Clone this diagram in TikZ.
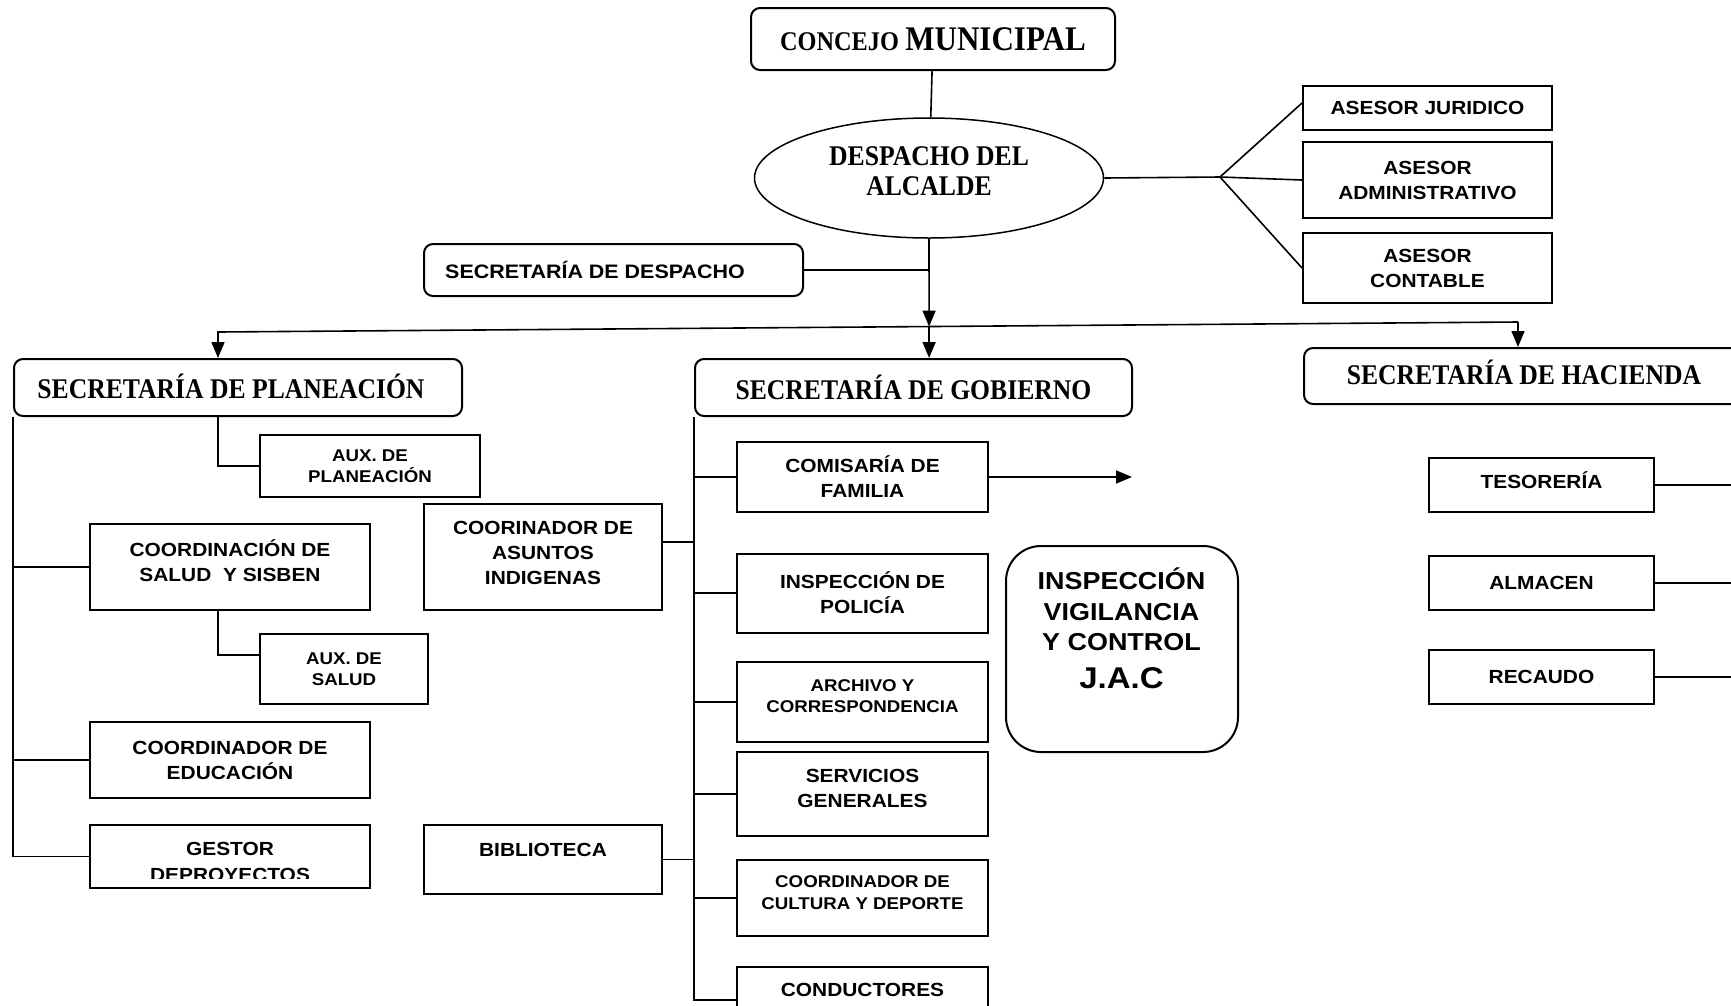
\documentclass[tikz,border=0pt]{standalone}
\usepackage{fontspec}
\setmainfont{Liberation Sans}
\newfontfamily\titlefamily[FakeStretch=0.9]{Liberation Serif}
\newfontfamily\boxfamily[FakeStretch=1.1]{Liberation Sans}
\usepackage{tikz}
\usetikzlibrary{arrows.meta,%
                shapes.geometric,%
                positioning}
\tikzset{
  sectitle/.style={font=\titlefamily\bfseries\fontsize{28.5}{30}\selectfont, align=center, inner sep=0pt},
  bigtxt/.style={font=\boxfamily\bfseries\fontsize{19}{25}\selectfont, align=center},
  smalltxt/.style={font=\boxfamily\bfseries\fontsize{17}{21.5}\selectfont, align=center},
  box/.style args={#1x#2}{draw, line width=2pt, inner sep=0pt, minimum width=#1, minimum height=#2},
  rbox/.style args={#1x#2}{box=#1x#2, rounded corners=9pt},
  link/.style={line width=1.6pt}
}

\begin{document}
\begin{tikzpicture}[x=1pt,y=-1pt,>={Triangle[length=16pt,width=13pt]}]
        \useasboundingbox (0,0) rectangle (1731,1005);
        \node[rbox=364x62, sectitle] (concejo) at (933,39) {{\fontsize{27}{30}\selectfont CONCEJO} {\fontsize{34.5}{36}\selectfont MUNICIPAL}};
        \node[ellipse, draw, line width=1.5pt, minimum width=349, minimum height=120] (alcalde) at (929,178) {};
        \node[sectitle] (alcaldetxt) at (929,171.5) {DESPACHO DEL\\ALCALDE};
        \node[rbox=379x52] (despacho) at (613.5,270) {};
        \node[bigtxt, anchor=west, inner sep=0pt, font=\boxfamily\bfseries\fontsize{19.5}{25}\selectfont] (despachotxt) at ([xshift=22pt]despacho.west) {SECRETARÍA DE DESPACHO};
        \node[box=249x44, bigtxt] (juridico) at (1427.5,108) {ASESOR JURIDICO};
        \node[box=249x76, bigtxt] (admin) at (1427.5,180) {ASESOR\\ADMINISTRATIVO};
        \node[box=249x70, bigtxt] (contable) at (1427.5,268) {ASESOR\\CONTABLE};
        \node[rbox=448x57] (planeacion) at (238,387.5) {};
        \node[sectitle] (planeaciontxt) at (231,386) {SECRETARÍA DE PLANEACIÓN};
        \node[rbox=437x57, sectitle] (gobierno) at (913.5,387.5) {SECRETARÍA DE GOBIERNO};
        \node[rbox=456x56] (hacienda) at (1532,376) {};
        \node[sectitle] (haciendatxt) at (1524,372) {SECRETARÍA DE HACIENDA};
        \node[box=220x62, smalltxt] (auxplan) at (370,466) {AUX. DE\\PLANEACIÓN};
        \node[box=280x86] (salud) at (230,567) {};
        \node[bigtxt, inner sep=0pt] (saludtxt) at (230,560.5) {COORDINACIÓN DE\\SALUD\ \ Y SISBEN};
        \node[box=168x70, smalltxt] (auxsalud) at (344,669) {AUX. DE\\SALUD};
        \node[box=280x76, bigtxt] (educacion) at (230,760) {COORDINADOR DE\\EDUCACIÓN};
        \node[box=280x63] (gestor) at (230,856.5) {};
        \begin{scope}
        \clip (gestor.north west) rectangle ([yshift=11pt]gestor.south east);
        \node[bigtxt, anchor=north, inner sep=0pt, font=\boxfamily\bfseries\fontsize{19}{26}\selectfont] (gestortxt) at ([yshift=-18pt]gestor.north) {GESTOR\\DEPROYECTOS};
        \end{scope}
        \node[box=238x106] (indigenas) at (543,557) {};
        \node[bigtxt, inner sep=0pt] (indigenastxt) at (543,553) {COORINADOR DE\\ASUNTOS\\INDIGENAS};
        \node[box=238x69] (biblioteca) at (543,859.5) {};
        \node[bigtxt, inner sep=0pt] (bibliotecatxt) at (543,850) {BIBLIOTECA};
        \node[box=251x70, bigtxt] (comisaria) at (862.5,477) {COMISARÍA DE\\FAMILIA};
        \node[box=251x79, bigtxt] (policia) at (862.5,593) {INSPECCIÓN DE\\POLICÍA};
        \node[box=251x80] (archivo) at (862.5,702) {};
        \node[smalltxt, inner sep=0pt] (archivotxt) at (862.5,696) {ARCHIVO Y\\CORRESPONDENCIA};
        \node[box=251x84] (servicios) at (862.5,794) {};
        \node[bigtxt, inner sep=0pt] (serviciostxt) at (862.5,788.5) {SERVICIOS\\GENERALES};
        \node[box=251x76] (cultura) at (862.5,898) {};
        \node[smalltxt, inner sep=0pt] (culturatxt) at (862.5,892.5) {COORDINADOR DE\\CULTURA Y DEPORTE};
        \node[box=251x66] (conductores) at (862.5,1000) {};
        \node[bigtxt, inner sep=0pt] (conductorestxt) at (862.5,990) {CONDUCTORES};
        \node[box=232x206, rounded corners=35pt] (inspeccion) at (1122,649) {};
        \node[bigtxt, anchor=north, inner sep=0pt, font=\boxfamily\bfseries\fontsize{24.5}{30.5}\selectfont] (inspecciontxt) at (1121.5,568) {INSPECCIÓN\\VIGILANCIA\\Y CONTROL\\[7pt]{\fontsize{30}{34}\selectfont J.A.C}};
        \node[box=225x54] (tesoreria) at (1541.5,485) {};
        \node[bigtxt, inner sep=0pt] (tesoreriatxt) at (1541.5,480.5) {TESORERÍA};
        \node[box=225x54, bigtxt] (almacen) at (1541.5,583) {ALMACEN};
        \node[box=225x54, bigtxt] (recaudo) at (1541.5,677) {RECAUDO};
        \coordinate (leftdrop) at (218,332);
        \coordinate (rightdrop) at (1518,322);
        \path (leftdrop) -- (rightdrop) coordinate[pos=0.547] (middrop);
        \coordinate (hub) at (1220,177);
        \coordinate (famend) at (1132,477);
        \draw[link] (concejo) -- (alcalde);
        \draw[link] (despacho.east) -- (despacho.east -| alcalde.south);
        \draw[link,->] (alcalde.south) -- (middrop);
        \draw[link,->] (middrop) -- (middrop |- gobierno.north);
        \draw[link,->] (rightdrop) -- (leftdrop) -- (leftdrop |- planeacion.north);
        \draw[link,->] (rightdrop) -- (rightdrop |- hacienda.north);
        \draw[link] (alcalde.east) -- (hub);
        \draw[link] (hub) -- ([yshift=5pt]juridico.west);
        \draw[link] (hub) -- (admin.west);
        \draw[link] (hub) -- (contable.west);
        \draw[link] (planeacion.south west) |- (gestor.west);
        \draw[link] (salud.west -| planeacion.south west) -- (salud.west);
        \draw[link] (educacion.west -| planeacion.south west) -- (educacion.west);
        \draw[link] (leftdrop |- planeacion.south) |- (auxplan.west);
        \draw[link] (leftdrop |- salud.south) |- ([yshift=14pt]auxsalud.west);
        \draw[link] (gobierno.south west) |- (conductores.west);
        \draw[link] (comisaria.west -| gobierno.south west) -- (comisaria.west);
        \draw[link] (policia.west -| gobierno.south west) -- (policia.west);
        \draw[link] (archivo.west -| gobierno.south west) -- (archivo.west);
        \draw[link] (servicios.west -| gobierno.south west) -- (servicios.west);
        \draw[link] (cultura.west -| gobierno.south west) -- (cultura.west);
        \draw[link] ([yshift=15pt]indigenas.east) -- ([yshift=15pt]indigenas.east -| gobierno.south west);
        \draw[link] (biblioteca.east) -- (biblioteca.east -| gobierno.south west);
        \draw[link,->] (comisaria.east) -- (famend);
        \draw[link] (tesoreria.east) -- (tesoreria.east -| hacienda.east);
        \draw[link] (almacen.east) -- (almacen.east -| hacienda.east);
        \draw[link] (recaudo.east) -- (recaudo.east -| hacienda.east);
    \end{tikzpicture}
\end{document}
